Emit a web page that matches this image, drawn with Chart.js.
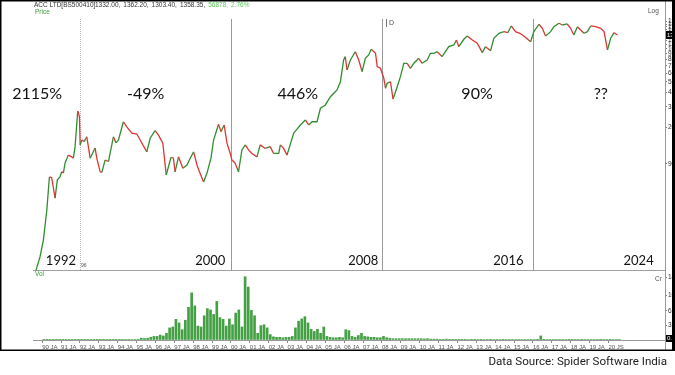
<!DOCTYPE html>
<html>
<head>
<meta charset="utf-8">
<script src="https://cdn.jsdelivr.net/npm/chart.js@4.4.1/dist/chart.umd.min.js"></script>
<style>
  html, body { margin: 0; padding: 0; background: #fff; }
  canvas { display: block; }
</style>
</head>
<body>
<canvas id="acc" width="675" height="375"></canvas>
<script>
// ACC LTD monthly-ish close (log scale)
const priceYears = [
  1989.67, 1989.88, 1990.06, 1990.24, 1990.38, 1990.50, 1990.68, 1990.80, 1990.94, 1991.03,
  1991.12, 1991.21, 1991.38, 1991.56, 1991.65, 1991.74, 1991.88, 1991.97, 1992.01, 1992.10,
  1992.22, 1992.36, 1992.54, 1992.80, 1992.89, 1993.07, 1993.16, 1993.33, 1993.51, 1993.77,
  1993.91, 1994.04, 1994.30, 1994.48, 1994.75, 1995.01, 1995.19, 1995.54, 1995.72, 1995.98,
  1996.16, 1996.39, 1996.57, 1996.82, 1996.95, 1997.04, 1997.22, 1997.45, 1997.67, 1997.84,
  1998.02, 1998.20, 1998.33, 1998.55, 1998.73, 1998.94, 1999.08, 1999.34, 1999.47, 1999.64,
  1999.79, 1999.96, 2000.05, 2000.14, 2000.23, 2000.40, 2000.58, 2000.76, 2000.93, 2001.11,
  2001.38, 2001.55, 2001.82, 2002.08, 2002.26, 2002.53, 2002.62, 2002.79, 2002.97, 2003.32,
  2003.68, 2003.94, 2004.12, 2004.30, 2004.56, 2004.74, 2005.00, 2005.27, 2005.53, 2005.62,
  2005.80, 2005.97, 2006.06, 2006.15, 2006.33, 2006.59, 2006.77, 2006.95, 2007.12, 2007.30,
  2007.43, 2007.66, 2007.75, 2007.92, 2008.10, 2008.19, 2008.28, 2008.45, 2008.59, 2008.81,
  2008.98, 2009.16, 2009.34, 2009.51, 2009.69, 2009.95, 2010.13, 2010.40, 2010.57, 2010.75,
  2010.93, 2011.19, 2011.54, 2011.81, 2011.95, 2012.07, 2012.34, 2012.52, 2012.79, 2013.05,
  2013.32, 2013.49, 2013.76, 2013.93, 2014.20, 2014.46, 2014.67, 2014.85, 2015.08, 2015.31,
  2015.52, 2015.88, 2016.05, 2016.32, 2016.50, 2016.67, 2016.94, 2017.11, 2017.38, 2017.56,
  2017.82, 2018.00, 2018.17, 2018.36, 2018.53, 2018.71, 2018.89, 2019.06, 2019.33, 2019.59,
  2019.77, 2019.95, 2020.12, 2020.30, 2020.48
];
const priceValues = [
  9.1, 12.1, 17.4, 33, 68, 67, 43, 64, 68, 76,
  74, 92, 109, 105, 102, 131, 283, 250, 136, 151,
  146, 162, 102, 127, 102, 76, 75, 98, 95, 162,
  142, 151, 224, 201, 175, 172, 151, 117, 157, 185,
  168, 141, 71, 104, 102, 76, 105, 82, 88, 102,
  117, 88, 76, 61, 74, 102, 151, 212, 181, 209,
  141, 113, 98, 95, 91, 76, 122, 136, 122, 113,
  105, 136, 126, 131, 113, 113, 136, 126, 109, 175,
  209, 233, 209, 224, 224, 300, 322, 385, 429, 445,
  532, 851, 914, 685, 851, 1017, 851, 661, 882, 948,
  1072, 983, 736, 711, 573, 462, 514, 532, 366, 478,
  593, 792, 792, 711, 792, 882, 792, 851, 983, 983,
  1017, 914, 1134, 1176, 1310, 1134, 1330, 1428, 1310, 1220,
  996, 1134, 1040, 1359, 1514, 1568, 1534, 1773, 1568, 1514,
  1428, 1262, 1568, 1840, 1687, 1428, 1568, 1746, 1879, 1811,
  1851, 1687, 1460, 1746, 1626, 1514, 1568, 1773, 1746, 1687,
  1568, 1056, 1359, 1534, 1460
];

// volume in crores, six bars a year from 1990
const volStart = 1990;
const volPerYear = 6;
const volumes = [
  0.05, 0.05, 0.06, 0.05, 0.06, 0.05,   // 1990
  0.06, 0.05, 0.06, 0.07, 0.06, 0.06,   // 1991
  0.08, 0.07, 0.06, 0.07, 0.06, 0.07,   // 1992
  0.06, 0.07, 0.08, 0.07, 0.08, 0.08,   // 1993
  0.09, 0.08, 0.10, 0.09, 0.10, 0.10,   // 1994
  0.15, 0.40, 0.35, 0.40, 0.60, 0.80,   // 1995
  0.80, 1.10, 0.90, 1.50, 2.70, 2.90,   // 1996
  4.60, 3.80, 2.30, 4.40, 7.30, 10.5,   // 1997
  7.60, 3.10, 2.90, 5.40, 7.00, 6.70,   // 1998
  5.70, 8.60, 5.00, 4.60, 3.10, 4.70,   // 1999
  3.40, 6.00, 6.70, 2.90, 14.1, 11.8,   // 2000
  6.60, 5.40, 1.50, 3.20, 3.40, 2.70,   // 2001
  1.20, 0.70, 0.60, 0.60, 0.50, 0.60,   // 2002
  0.60, 0.80, 2.70, 4.20, 4.70, 5.20,   // 2003
  3.80, 2.40, 1.90, 2.40, 1.50, 2.90,   // 2004
  0.80, 0.60, 0.50, 0.50, 0.60, 0.50,   // 2005
  2.30, 2.10, 0.80, 0.60, 1.00, 1.50,   // 2006
  0.80, 0.70, 0.60, 0.60, 0.50, 0.50,   // 2007
  0.80, 0.50, 0.40, 0.30, 0.30, 0.30,   // 2008
  0.30, 0.30, 0.30, 0.30, 0.30, 0.30,   // 2009
  0.30, 0.25, 0.30, 0.20, 0.20, 0.20,   // 2010
  0.15, 0.15, 0.20, 0.15, 0.15, 0.15,   // 2011
  0.15, 0.15, 0.15, 0.12, 0.15, 0.15,   // 2012
  0.12, 0.15, 0.12, 0.12, 0.15, 0.12,   // 2013
  0.12, 0.12, 0.15, 0.12, 0.12, 0.12,   // 2014
  0.12, 0.12, 0.12, 0.10, 0.12, 0.12,   // 2015
  0.12, 0.15, 0.90, 0.15, 0.12, 0.12,   // 2016
  0.12, 0.12, 0.12, 0.12, 0.12, 0.15,   // 2017
  0.15, 0.12, 0.12, 0.15, 0.12, 0.12,   // 2018
  0.12, 0.12, 0.12, 0.15, 0.12, 0.12,   // 2019
  0.15, 0.12, 0.12, 0.12                // 2020
];

const xTickYears = [];
for (let yr = 1990; yr <= 2020; yr++) xTickYears.push(yr);
const xTickLabels = xTickYears.map(yr => String(yr).slice(2) + (yr === 2020 ? ' JS' : ' JA'));

const priceTicks = [90, 200, 310, 420, 530, 640, 750, 860, 970, 1080, 1190, 1300, 1410, 1520, 1630, 1740, 1850, 1960];
const volTicks = [0, 3.3, 6.5, 10, 14];
const volTickLabels = ['0.0', '3.3', '6.5', '10', '14'];

const periodYears = [1992, 2000, 2008, 2016];
const periodReturns = ['2115%', '-49%', '446%', '90%', '??'];
const yearTags = ['1992', '2000', '2008', '2016', '2024'];

// where the annotations sit (in years on the x scale)
const returnCentres = [1989.73, 1995.48, 2003.54, 2013.04, 2019.6];
const tagRightEdges = [1991.79, 1999.70, 2007.81, 2015.50, 2022.40];

const GREEN = '#2f8f2f';
const RED = '#e03434';

const pricePoints = priceYears.map((x, i) => ({ x, y: priceValues[i] }));
const volPoints = volumes.map((v, i) => ({ x: volStart + (i + 0.5) / volPerYear, y: v }));

const tickFont = { family: 'Liberation Sans', size: 6.5 };

const frame = {
  id: 'frame',
  beforeDatasetsDraw(chart) {
    const { ctx, chartArea: a, scales: { x, y } } = chart;
    ctx.save();
    ctx.lineWidth = 1;
    periodYears.forEach((yr, i) => {
      const px = Math.round(x.getPixelForValue(yr)) + 0.5;
      ctx.strokeStyle = i === 0 ? '#b4b4b4' : '#9a9a9a';
      ctx.setLineDash(i === 0 ? [1, 1] : []);
      ctx.beginPath();
      ctx.moveTo(px, 19);
      ctx.lineTo(px, y.bottom);
      ctx.stroke();
    });
    ctx.setLineDash([]);
    ctx.strokeStyle = '#a0a0a0';
    ctx.beginPath();
    ctx.moveTo(a.left, Math.round(y.bottom) + 0.5);
    ctx.lineTo(a.right, Math.round(y.bottom) + 0.5);
    ctx.stroke();
    ctx.restore();
  },
  afterDraw(chart) {
    const { ctx, chartArea: a, scales: { x, y, yv } } = chart;
    ctx.save();

    // period returns
    ctx.fillStyle = '#111';
    ctx.textBaseline = 'middle';
    ctx.textAlign = 'center';
    ctx.font = '16px Lato';
    periodReturns.forEach((t, i) => ctx.fillText(t, x.getPixelForValue(returnCentres[i]), 94));

    // year tags along the bottom of the price panel
    ctx.font = '13px Lato';
    ctx.textAlign = 'right';
    yearTags.forEach((t, i) => ctx.fillText(t, x.getPixelForValue(tagRightEdges[i]), 261));

    // small labels
    ctx.textAlign = 'left';
    ctx.font = '6.5px "Liberation Sans"';
    ctx.fillStyle = '#333';
    ctx.fillText('ACC LTD[BS500410]', 34, 5.5);
    let hx = 95;
    [['1332.00,', '#333'], ['1362.20,', '#333'], ['1303.40,', '#333'], ['1358.35,', '#333'],
     ['56878,', '#5ccc5c'], ['2.76%', '#5ccc5c']].forEach(([t, c]) => {
      ctx.fillStyle = c;
      ctx.fillText(t, hx, 5.5);
      hx += ctx.measureText(t).width + 3;
    });
    ctx.fillStyle = '#3c9c3c';
    ctx.fillText('Price', 35, 12.5);
    ctx.fillText('Vol', 35, 274.5);
    ctx.fillStyle = '#555';
    ctx.fillText('Log', 648, 11);
    ctx.fillText('Cr', 655, 279);
    ctx.font = '5px "Liberation Sans"';
    ctx.fillText('96', 81, 266);
    ctx.font = '7px "Liberation Sans"';
    ctx.fillText('D', 389, 23);
    ctx.strokeStyle = '#777';
    ctx.beginPath();
    ctx.moveTo(386.5, 19);
    ctx.lineTo(386.5, 27);
    ctx.stroke();

    // right axis line
    ctx.strokeStyle = '#9a9a9a';
    ctx.beginPath();
    ctx.moveTo(Math.round(a.right) + 0.5, 1);
    ctx.lineTo(Math.round(a.right) + 0.5, 350);
    ctx.stroke();

    // last value boxes
    const ly = y.getPixelForValue(priceValues[priceValues.length - 1]);
    ctx.fillStyle = '#000';
    ctx.fillRect(a.right + 1, ly - 4, 8, 8);
    ctx.fillRect(a.right + 1, yv.bottom - 5, 8, 7);
    ctx.fillStyle = '#fff';
    ctx.font = '6px "Liberation Sans"';
    ctx.textBaseline = 'middle';
    ctx.fillText('1358.35', a.right + 2, ly);
    ctx.fillText('0.0', a.right + 2, yv.bottom - 1.5);

    // outer frame
    ctx.fillStyle = '#000';
    ctx.fillRect(0, 0, 675, 1.5);
    ctx.fillRect(0, 0, 1.5, 351);
    ctx.fillRect(672, 0, 3, 351);
    ctx.fillRect(0, 349.5, 675, 1.5);

    // source note
    ctx.fillStyle = '#222';
    ctx.font = '11.6px Roboto';
    ctx.textAlign = 'right';
    ctx.fillText('Data Source: Spider Software India', 667, 362);
    ctx.restore();
  }
};

new Chart(document.getElementById('acc'), {
  type: 'bar',
  data: {
    datasets: [
      {
        type: 'line',
        data: pricePoints,
        xAxisID: 'x',
        yAxisID: 'y',
        borderWidth: 1.3,
        pointRadius: 0,
        tension: 0,
        borderColor: GREEN,
        segment: {
          borderColor: c => (c.p1.parsed.y >= c.p0.parsed.y ? GREEN : RED)
        }
      },
      {
        type: 'bar',
        data: volPoints,
        xAxisID: 'x',
        yAxisID: 'yv',
        backgroundColor: '#45a045',
        borderWidth: 0,
        barThickness: 2
      }
    ]
  },
  options: {
    responsive: false,
    animation: false,
    layout: { padding: { left: 33, top: 16, right: 0, bottom: 25 } },
    plugins: { legend: { display: false }, tooltip: { enabled: false } },
    scales: {
      x: {
        type: 'linear',
        offset: false,
        min: 1989.51,
        max: 2023.0,
        afterFit: s => { s.height = 10; },
        afterBuildTicks: s => { s.ticks = xTickYears.map(v => ({ value: v })); },
        grid: { drawOnChartArea: false, tickLength: 3, color: '#888', offset: false },
        border: { display: true, color: '#999' },
        ticks: {
          align: 'start',
          autoSkip: false,
          maxRotation: 0,
          padding: 1,
          color: '#555',
          font: { family: 'Liberation Sans', size: 6 },
          callback: (v) => xTickLabels[xTickYears.indexOf(v)]
        }
      },
      y: {
        type: 'logarithmic',
        position: 'right',
        stack: 'panels',
        stackWeight: 254,
        min: 9.12,
        max: 2199,
        afterFit: s => { s.width = 10; },
        afterBuildTicks: s => { s.ticks = priceTicks.map(v => ({ value: v })); },
        grid: { drawOnChartArea: false, tickLength: 2, color: '#777' },
        border: { display: false },
        ticks: {
          autoSkip: false,
          padding: 1,
          color: '#333',
          font: tickFont,
          callback: v => String(v)
        }
      },
      yv: {
        type: 'linear',
        position: 'right',
        stack: 'panels',
        stackWeight: 70,
        min: 0,
        max: 15.6,
        afterFit: s => { s.width = 10; },
        afterBuildTicks: s => { s.ticks = volTicks.map(v => ({ value: v })); },
        grid: { drawOnChartArea: false, tickLength: 2, color: '#777' },
        border: { display: false },
        ticks: {
          autoSkip: false,
          padding: 1,
          color: '#333',
          font: tickFont,
          callback: v => volTickLabels[volTicks.indexOf(v)]
        }
      }
    }
  },
  plugins: [frame]
});
</script>
</body>
</html>
